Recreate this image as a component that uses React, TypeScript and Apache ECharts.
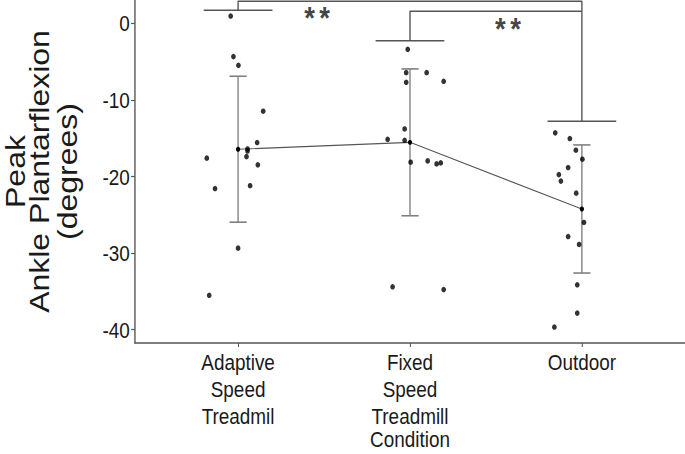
import React, { useEffect, useRef } from 'react';
import * as echarts from 'echarts';

const categories = ['Adaptive\nSpeed\nTreadmil', 'Fixed\nSpeed\nTreadmill', 'Outdoor'];
const yTicks = [-40, -30, -20, -10, 0];
const xTicks = [1, 2, 3];
const xAxisTitle = 'Condition';
const yAxisTitleLines = ['Peak', 'Ankle Plantarflexion', '(degrees)'];

const adaptiveValues = [0.95, -4.35, -5.48, -11.48, -15.57, -16.4, -16.67, -17.4, -17.6, -18.48, -21.2, -21.57, -29.35, -35.5];
const adaptiveJitter = [-0.043, -0.027, 0.002, 0.146, 0.111, 0.055, 0.055, 0.049, -0.182, 0.115, 0.07, -0.134, 0.0, -0.168];
const fixedValues = [-3.39, -6.44, -7.7, -6.44, -7.57, -13.79, -15.27, -15.14, -18.13, -17.96, -18.35, -18.22, -34.4, -34.75];
const fixedJitter = [-0.013, -0.022, -0.022, 0.097, 0.196, -0.031, -0.031, -0.13, 0.004, 0.103, 0.155, 0.179, -0.101, 0.196];
const outdoorValues = [-14.3, -15.05, -16.57, -17.74, -18.83, -19.75, -20.6, -22.17, -26.0, -27.83, -28.87, -34.13, -37.83, -39.65];
const outdoorJitter = [-0.155, -0.07, -0.035, 0.003, -0.08, -0.134, -0.122, -0.033, 0.012, -0.08, -0.016, -0.027, -0.027, -0.16];

// significance annotation (data units)
const bracketTop = [2.87, 1.57];
const bracketCaps = [1.7, -2.27, -12.78];
const sigLabels = ['**', '**'];
const sigLabelPos = [[1.46, 0.72], [2.57, -0.68]];

const groups = [adaptiveValues, fixedValues, outdoorValues];
const jitters = [adaptiveJitter, fixedJitter, outdoorJitter];

const mean = (a: number[]) => a.reduce((s, v) => s + v, 0) / a.length;
const sd = (a: number[]) => {
  const m = mean(a);
  return Math.sqrt(a.reduce((s, v) => s + (v - m) * (v - m), 0) / (a.length - 1));
};

const FONT = '"Liberation Sans", Arial, sans-serif';
// the reference image is horizontally compressed; render wider and squeeze
const VIEW_W = 685;
const VIEW_H = 454;
const SQUEEZE = 0.8595;
const INNER_W = Math.round(VIEW_W / SQUEEZE);

export default function App() {
  const ref = useRef<HTMLDivElement>(null);
  useEffect(() => {
    document.body.style.margin = '0';
    if (!ref.current) return;
    const chart = echarts.init(ref.current, null, { renderer: 'svg' });

    const means = groups.map(mean);
    const sds = groups.map(sd);
    const points: number[][] = [];
    groups.forEach((g, gi) => g.forEach((v, i) => points.push([gi + 1 + jitters[gi][i], v])));
    const meanPts = means.map((m, i) => [i + 1, m]);
    const errData = means.map((m, i) => [i + 1, m - sds[i], m + sds[i]]);

    const bracketLines: number[][][] = [];
    bracketCaps.forEach((c, i) => bracketLines.push([[i + 0.8, c], [i + 1.2, c]]));
    bracketLines.push([[1, bracketCaps[0]], [1, bracketTop[0]], [3, bracketTop[0]], [3, bracketCaps[2]]]);
    bracketLines.push([[2, bracketCaps[1]], [2, bracketTop[1]], [3, bracketTop[1]]]);

    const lineStyleBracket = { color: '#555555', width: 1.6 };
    const titleStyle = { fontFamily: FONT, fontSize: 32, color: '#1a1a1a' };

    chart.setOption({
      animation: false,
      backgroundColor: '#ffffff',
      grid: { left: 157, right: 0, top: 0, bottom: 111, outerBoundsMode: 'none', containLabel: false },
      xAxis: {
        type: 'value',
        min: 0.4,
        max: 3.6,
        name: xAxisTitle,
        nameLocation: 'middle',
        nameGap: 85,
        nameMoveOverlap: false,
        nameTextStyle: { fontFamily: FONT, fontSize: 22, color: '#1a1a1a', lineHeight: 22 },
        axisLine: { show: true, onZero: false, lineStyle: { color: '#555555', width: 1.6 } },
        axisTick: { show: true, customValues: xTicks, length: 4, lineStyle: { color: '#555555', width: 1.2 } },
        axisLabel: {
          customValues: xTicks,
          formatter: (v: number) => categories[Math.round(v) - 1] ?? '',
          fontFamily: FONT,
          fontSize: 22,
          lineHeight: 27,
          color: '#1a1a1a',
          margin: 5,
        },
        splitLine: { show: false },
      },
      yAxis: {
        type: 'value',
        min: -41.73,
        max: 3.04,
        name: `{a|${yAxisTitleLines[0]}}\n{b|${yAxisTitleLines[1]}}\n{c|${yAxisTitleLines[2]}}`,
        nameLocation: 'middle',
        nameRotate: 90,
        nameGap: 66.5,
        nameMoveOverlap: false,
        nameTextStyle: {
          ...titleStyle,
          rich: {
            a: { ...titleStyle, lineHeight: 14 },
            b: { ...titleStyle, lineHeight: 42 },
            c: { ...titleStyle, lineHeight: 24 },
          },
        },
        axisLine: { show: true, onZero: false, lineStyle: { color: '#555555', width: 1.6 } },
        axisTick: { show: true, customValues: yTicks, length: 4.5, lineStyle: { color: '#555555', width: 1.2 } },
        axisLabel: {
          customValues: yTicks,
          fontFamily: FONT,
          fontSize: 22,
          color: '#1a1a1a',
          margin: 6,
        },
        splitLine: { show: false },
      },
      series: [
        ...bracketLines.map((pts) => ({
          type: 'line',
          data: pts,
          symbol: 'none',
          lineStyle: lineStyleBracket,
          silent: true,
          z: 1,
        })),
        {
          type: 'custom',
          data: errData,
          encode: { x: 0, y: [1, 2] },
          z: 2,
          renderItem: (params: any, api: any) => {
            const x = api.value(0);
            const lo = api.coord([x, api.value(1)]);
            const hi = api.coord([x, api.value(2)]);
            const w = api.size([0.1, 0])[0] / 2;
            const st = { stroke: '#808080', lineWidth: 1.6 };
            return {
              type: 'group',
              children: [
                { type: 'line', shape: { x1: lo[0], y1: lo[1], x2: hi[0], y2: hi[1] }, style: st },
                { type: 'line', shape: { x1: lo[0] - w, y1: lo[1], x2: lo[0] + w, y2: lo[1] }, style: st },
                { type: 'line', shape: { x1: hi[0] - w, y1: hi[1], x2: hi[0] + w, y2: hi[1] }, style: st },
              ],
            };
          },
        },
        {
          type: 'line',
          data: meanPts,
          symbol: 'circle',
          symbolSize: 5,
          itemStyle: { color: '#000000' },
          lineStyle: { color: '#555555', width: 1.1 },
          z: 3,
        },
        {
          type: 'scatter',
          data: points,
          symbolSize: 5.5,
          itemStyle: { color: '#000000' },
          z: 4,
        },
        {
          type: 'scatter',
          data: sigLabelPos.map((p, i) => ({ value: p, name: sigLabels[i] })),
          symbolSize: 0,
          z: 5,
          label: {
            show: true,
            position: 'inside',
            formatter: (p: any) => p.name.split('').map((c: string) => `{s|${c}}`).join(''),
            rich: {
              s: {
                fontFamily: FONT,
                fontSize: 32,
                fontWeight: 'bold',
                color: '#111111',
                width: 17.5,
                lineHeight: 24,
                align: 'center',
              },
            },
          },
        },
      ],
    });
    return () => chart.dispose();
  }, []);
  return (
    <div style={{ width: VIEW_W, height: VIEW_H, overflow: 'hidden', position: 'relative' }}>
      <div
        ref={ref}
        style={{ width: INNER_W, height: VIEW_H, transform: `scaleX(${SQUEEZE})`, transformOrigin: '0 0' }}
      />
    </div>
  );
}
